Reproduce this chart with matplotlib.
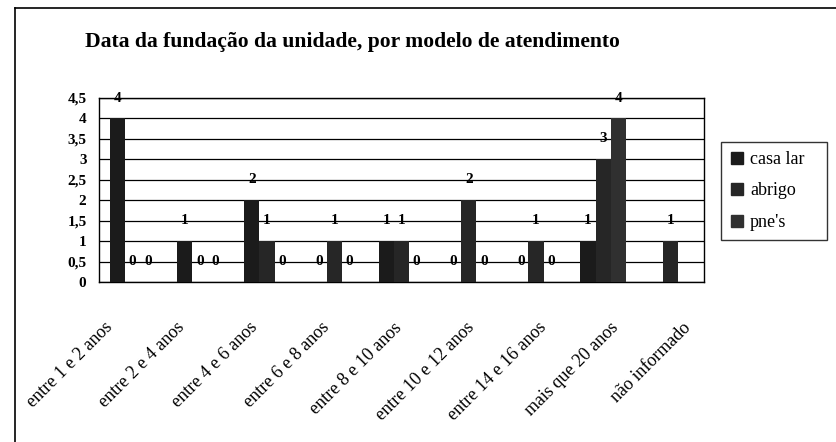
import numpy as np
import matplotlib
matplotlib.use("Agg")
import matplotlib.pyplot as plt
from matplotlib.lines import Line2D
from matplotlib.transforms import ScaledTranslation

# dados
categories = ["entre 1 e 2 anos", "entre 2 e 4 anos", "entre 4 e 6 anos",
              "entre 6 e 8 anos", "entre 8 e 10 anos", "entre 10 e 12 anos",
              "entre 14 e 16 anos", "mais que 20 anos", "não informado"]
casa_lar = [4, 1, 2, 0, 1, 0, 0, 1, np.nan]
abrigo = [0, 0, 1, 1, 1, 2, 1, 3, 1]
pnes = [0, 0, 0, 0, 0, 0, 0, 4, np.nan]
series_names = ["casa lar", "abrigo", "pne's"]
y_ticks = [0, 0.5, 1, 1.5, 2, 2.5, 3, 3.5, 4, 4.5]
y_tick_labels = ["0", "0,5", "1", "1,5", "2", "2,5", "3", "3,5", "4", "4,5"]
title = "Data da fundação da unidade, por modelo de atendimento"

colors = ["#1b1b1b", "#262626", "#303030"]
serif = "Liberation Serif"
W, H = 837, 442

fig = plt.figure(figsize=(W / 100, H / 100), dpi=100)
fig.patch.set_facecolor("white")

# moldura externa (so esquerda e topo aparecem)
fig.add_artist(Line2D([15 / W, 15 / W], [0, 1 - 8 / H], color="black", lw=1.2))
fig.add_artist(Line2D([15 / W, 1], [1 - 8 / H, 1 - 8 / H], color="black", lw=1.2))

ax = fig.add_axes([99 / W, 160 / H, 605 / W, 184 / H])

x = np.arange(len(categories))
w = 0.225
for k, (vals, name) in enumerate(zip([casa_lar, abrigo, pnes], series_names)):
    vals = np.array(vals, dtype=float)
    pos = x + (k - 1) * w
    ax.bar(pos, np.nan_to_num(vals), w, color=colors[k], label=name, zorder=3)
    for px, v in zip(pos, vals):
        if np.isnan(v):
            continue
        ax.text(px, v + 0.5, "%d" % v, ha="center", va="center", fontsize=11,
                fontweight="bold", family=serif, zorder=4, clip_on=False)

ax.set_xlim(-0.5, len(categories) - 0.5)
ax.set_ylim(0, 4.5)
ax.set_yticks(y_ticks)
ax.set_yticklabels(y_tick_labels, fontsize=11, fontweight="bold", family=serif)
ax.yaxis.grid(True, color="black", lw=0.9, zorder=1)
ax.tick_params(axis="y", length=0, pad=9)
for s in ax.spines.values():
    s.set_color("black")
    s.set_linewidth(1)

ax.set_xticks(x)
ax.set_xticklabels(categories, rotation=45, ha="right", va="center",
                   rotation_mode="anchor", fontsize=13, family=serif)
ax.tick_params(axis="x", length=0, pad=0)
for i, lab in enumerate(ax.get_xticklabels()):
    dx = (-22.5 + 5.0 * i) / 100
    lab.set_transform(lab.get_transform() + ScaledTranslation(dx, -0.43, fig.dpi_scale_trans))

handles = [Line2D([], [], marker="s", ls="none", color=c, markersize=8.5) for c in colors]
leg = fig.legend(handles, series_names, loc="upper left", mode="expand",
                 bbox_to_anchor=(721 / W, 1 - 239 / H, 106 / W, 97 / H),
                 borderaxespad=0,
                 prop={"family": serif, "size": 13}, frameon=True, fancybox=False,
                 handlelength=0.8, handletextpad=0.3, labelspacing=0.8,
                 borderpad=0.5)
leg.get_frame().set_edgecolor("black")
leg.get_frame().set_linewidth(1)

fig.text(85 / W, 1 - 47 / H, title, ha="left", va="baseline", fontsize=15.6,
         fontweight="bold", family=serif)

fig.savefig("out.png", dpi=100)
